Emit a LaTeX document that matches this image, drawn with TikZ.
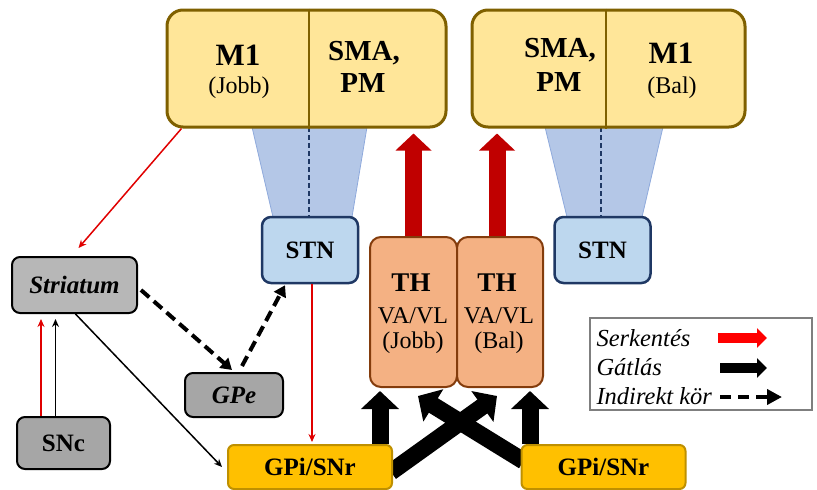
\documentclass[tikz,border=0pt]{standalone}
\usepackage{fontspec}
\setmainfont{LiberationSerif}[Extension=.ttf,UprightFont=*-Regular,BoldFont=*-Bold,ItalicFont=*-Italic,BoldItalicFont=*-BoldItalic]
\usetikzlibrary{arrows.meta,calc}
\pgfdeclarelayer{bg}
\pgfsetlayers{bg,main}
\definecolor{topfill}{HTML}{FFE699}
\definecolor{topdraw}{HTML}{7F6000}
\definecolor{trapfill}{HTML}{B4C7E7}
\definecolor{trapdraw}{HTML}{8FAADC}
\definecolor{stnfill}{HTML}{BDD7EE}
\definecolor{stndraw}{HTML}{1F3864}
\definecolor{thfill}{HTML}{F4B183}
\definecolor{thdraw}{HTML}{843C0C}
\definecolor{grayfill}{HTML}{A6A6A6}
\definecolor{strifill}{HTML}{B7B7B7}
\definecolor{gpifill}{HTML}{FFC000}
\definecolor{gpidraw}{HTML}{BF9000}
\definecolor{darkred}{HTML}{C00000}
\definecolor{thinred}{HTML}{E00000}
\definecolor{leggray}{HTML}{7F7F7F}
\begin{document}
\begin{tikzpicture}[x=1pt,y=-1pt,
  big/.style={font=\bfseries\fontsize{29}{31}\selectfont},
  med/.style={font=\fontsize{24}{26}\selectfont},
  medb/.style={font=\bfseries\fontsize{25}{27}\selectfont},
  medbi/.style={font=\bfseries\itshape\fontsize{25}{27}\selectfont},
  medi/.style={font=\itshape\fontsize{24.5}{26}\selectfont},
  topbox/.style={draw=topdraw,fill=topfill,line width=3pt,rounded corners=16pt,minimum height=117pt},
  stnbox/.style={draw=stndraw,fill=stnfill,line width=2.5pt,rounded corners=9pt,minimum width=96pt,minimum height=66pt},
  thbox/.style={draw=thdraw,fill=thfill,line width=2pt,rounded corners=11pt,minimum height=150pt},
  graybox/.style={draw=black,fill=grayfill,line width=2pt,rounded corners=8pt},
  gpibox/.style={draw=gpidraw,fill=gpifill,line width=2pt,rounded corners=6pt,minimum width=164pt,minimum height=44pt},
  trap/.style={fill=trapfill,draw=trapdraw,line width=0.8pt},
  divline/.style={draw=stndraw,line width=1.6pt,dash pattern=on 5pt off 3pt},
  redthin/.style={draw=thinred,line width=1.5pt,-{Stealth[length=8pt,width=7pt]}},
  blackthin/.style={draw=black,line width=1.5pt,-{Stealth[length=8pt,width=7pt]}},
  indirect/.style={draw=black,line width=4pt,dash pattern=on 11pt off 6pt,-{Triangle[length=11pt,width=13pt]}},
  fatred/.style={draw=darkred,line width=17pt,-{Triangle[length=17pt,width=35pt]}},
  fatblack/.style={draw=black,line width=17pt,-{Triangle[length=18pt,width=37pt]}},
]
\useasboundingbox (0,0) rectangle (817,490);

% trapezoids
\fill[trap] (252,127) -- (367,127) -- (352,217) -- (273,217) -- cycle;
\fill[trap] (545,127) -- (663,127) -- (642,217) -- (567,217) -- cycle;
\draw[divline] (309,127) -- (309,217);
\draw[divline] (601,127) -- (601,217);

% top boxes
\node[topbox,minimum width=279pt] (topL) at (306.5,68.5) {};
\draw[topdraw,line width=2pt] (topL.north -| 309,0) -- (topL.south -| 309,0);
\node[big,font=\bfseries\fontsize{31}{33}\selectfont] (m1L) at (238,55) {M1};
\node[med] (jobbL) at (239,88) {(Jobb)};
\node[big] (smaL) at (364,53) {SMA,};
\node[big] (pmL) at (363,83) {PM};

\node[topbox,minimum width=273pt] (topR) at (608.5,68.5) {};
\draw[topdraw,line width=2pt] (topR.north -| 606,0) -- (topR.south -| 606,0);
\node[big] (smaR) at (560,50) {SMA,};
\node[big] (pmR) at (559,82) {PM};
\node[big,font=\bfseries\fontsize{31}{33}\selectfont] (m1R) at (671,53) {M1};
\node[med] (balR) at (672,88) {(Bal)};

% STN
\node[stnbox,medb] (stnL) at (310,250) {STN};
\node[stnbox,medb] (stnR) at (602.5,250) {STN};

% TH
\node[thbox,minimum width=87pt] (thL) at (413.5,312) {};
\node[thbox,minimum width=86pt] (thR) at (500,312) {};
\node[font=\bfseries\fontsize{27}{29}\selectfont] (thLa) at (411,283) {TH};
\node[med] (thLb) at (413,316) {VA/VL};
\node[med] (thLc) at (413,343) {(Jobb)};
\node[font=\bfseries\fontsize{27}{29}\selectfont] (thRa) at (497,283) {TH};
\node[med] (thRb) at (499,316) {VA/VL};
\node[med] (thRc) at (499,343) {(Bal)};

% gray boxes
\node[graybox,fill=strifill,minimum width=125pt,minimum height=56pt,medbi] (stri) at (74.5,285) {Striatum};
\node[graybox,minimum width=98pt,minimum height=44pt,medbi] (gpe) at (234,395) {GPe};
\node[graybox,minimum width=93pt,minimum height=52pt,medb] (snc) at (63.5,443) {SNc};

% GPi
\node[gpibox,medb] (gpiL) at (310,467) {GPi/SNr};
\node[gpibox,medb] (gpiR) at (603.5,467) {GPi/SNr};

% fat arrows
\draw[fatred] (thL.north) -- ($(thL.north |- topL.south)+(0,5)$);
\draw[fatred] ([xshift=-3pt]thR.north) -- ($([xshift=-3pt]thR.north |- topR.south)+(0,5)$);
\begin{pgfonlayer}{bg}
\draw[fatblack] ([xshift=70pt]gpiL.north) -- ($([xshift=70pt]gpiL.north |- thL.south)+(0,3)$);
\draw[fatblack] ([xshift=-73.5pt]gpiR.north) -- ($([xshift=-73.5pt]gpiR.north |- thR.south)+(0,3)$);
\draw[fatblack] ($(gpiL.east)+(-2,5)$) -- ($(thR.south)+(-3,8)$);
\draw[fatblack] ($(gpiR.west)+(3,-6)$) -- ($(thL.south)+(4.5,8)$);
\end{pgfonlayer}

% thin connectors
\draw[redthin] ([xshift=16pt]topL.south west) -- ($(stri.north)+(4,-8)$);
\draw[indirect] ($(stri.east)+(3,5)$) -- ($(gpe.north)+(-2,-2)$);
\draw[indirect] ($(gpe.north)+(8,-6)$) -- ($(stnL.south)+(-25,1)$);
\draw[blackthin] ($(stri.south)+(1,0)$) -- ($(gpiL.west)+(-5,0)$);
\draw[redthin] ([xshift=-22.5pt]snc.north) -- ($([xshift=-22.5pt]snc.north |- stri.south)+(0,5)$);
\draw[blackthin] ([xshift=-8pt]snc.north) -- ($([xshift=-8pt]snc.north |- stri.south)+(0,5)$);
\draw[redthin] ([xshift=2pt]stnL.south) -- ($([xshift=2pt]stnL.south |- gpiL.north)+(0,-2)$);

% legend
\node[draw=leggray,line width=1.5pt,minimum width=222pt,minimum height=92pt] (leg) at (701,364) {};
\node[medi,anchor=west] (lg1) at (593,338) {Serkentés};
\node[medi,anchor=west] (lg2) at (593,367) {Gátlás};
\node[medi,anchor=west] (lg3) at (593,396) {Indirekt kör};
\coordinate (a1s) at (718,338); \coordinate (a1e) at (767,338);
\coordinate (a2s) at (720,368); \coordinate (a2e) at (767,368);
\coordinate (a3s) at (720,397); \coordinate (a3e) at (782,397);
\draw[draw=red,line width=10pt,-{Triangle[length=10pt,width=19pt]}] (a1s) -- (a1e);
\draw[draw=black,line width=10pt,-{Triangle[length=10pt,width=19pt]}] (a2s) -- (a2e);
\draw[draw=black,line width=4pt,dash pattern=on 11pt off 7pt,-{Triangle[length=15pt,width=15pt]}] (a3s) -- (a3e);
\end{tikzpicture}
\end{document}
